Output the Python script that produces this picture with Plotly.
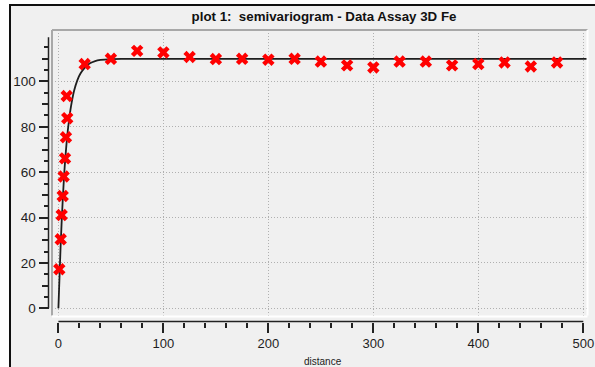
import plotly.graph_objects as go

# ---- data ----
lag_distance = [0.85, 2.2, 3.1, 4.1, 5.0, 6.3, 7.2, 8.4, 7.9,
                25, 50, 75, 100, 125, 150, 175, 200, 225, 250,
                275, 300, 325, 350, 375, 400, 425, 450, 475]
semivariance = [17.2, 30.4, 41.1, 49.5, 58.1, 66.1, 75.4, 83.8, 93.6,
                107.7, 110.0, 113.5, 112.8, 110.8, 109.9, 110.0, 109.6, 110.0, 108.8,
                107.1, 106.2, 108.8, 108.8, 107.1, 107.7, 108.4, 106.6, 108.4]

model_distance = [0, 1, 2, 3, 4, 5, 6, 8, 10, 12, 15, 18, 21, 25, 30, 35, 40, 50, 60, 80, 505]
model_gamma = [0, 13, 26, 37, 46.5, 55, 62.5, 74, 82.5, 89, 96, 100.5, 103.5, 106, 108, 109, 109.5, 109.9, 110, 110, 110]

x_major_ticks = [0, 100, 200, 300, 400, 500]
y_major_ticks = [0, 20, 40, 60, 80, 100]
y_medium_ticks = [10, 30, 50, 70, 90, 110]
y_minor_ticks = [5, 15, 25, 35, 45, 55, 65, 75, 85, 95, 105, 115]

title_text = "plot 1:\u00a0 semivariogram - Data Assay 3D Fe"
x_title = "distance"

# ---- layout geometry (pixels) ----
W, H = 595, 367
def px(x):
    return x / W
def py(y):
    return 1 - y / H

PLOT_L, PLOT_R, PLOT_T, PLOT_B = 52, 587.5, 30, 315.5
YAXIS_X = 48.5
XAXIS_Y = 321.5
X_RANGE = [-6.1, 504.0]
Y_RANGE = [-3.2, 122.7]
Y_AXIS_TOP = 119.5

tick_font = dict(family="Liberation Sans", size=13, color="#1e1e1e")
grid_style = dict(showgrid=True, gridcolor="#b0b0b0", griddash="1px,2px", gridwidth=1)

fig = go.Figure()

fig.add_trace(go.Scatter(
    x=model_distance, y=model_gamma, mode="lines",
    line=dict(color="#1e1e1e", width=1.8, shape="spline", smoothing=0.6),
    xaxis="x", yaxis="y", hoverinfo="skip", showlegend=False,
))
fig.add_trace(go.Scatter(
    x=lag_distance, y=semivariance, mode="markers",
    marker=dict(symbol="x", size=11, color="#ff0000", line=dict(width=0)),
    xaxis="x", yaxis="y2", cliponaxis=False, showlegend=False,
))

fig.update_layout(
    width=W, height=H,
    margin=dict(l=0, r=0, t=0, b=0),
    paper_bgcolor="white",
    plot_bgcolor="#f0f0f0",
    showlegend=False,
    title=dict(text=title_text, x=324 / W, y=1 - 16 / H, xref="container", yref="container",
               xanchor="center", yanchor="middle",
               font=dict(family="Liberation Sans", size=13.3, color="#111111", weight="bold")),
    xaxis=dict(
        domain=[px(PLOT_L), px(PLOT_R)], range=X_RANGE, anchor="free", position=py(XAXIS_Y),
        tickmode="array", tickvals=x_major_ticks, ticks="outside", ticklen=10,
        tickwidth=1.5, tickcolor="#222222", showline=False, zeroline=False,
        tickfont=tick_font, automargin=False, ticklabeloverflow="allow",
        minor=dict(dtick=20, tick0=0, ticks="outside", ticklen=5, tickwidth=1.5,
                   tickcolor="#222222", showgrid=False),
        **grid_style,
    ),
    yaxis=dict(
        domain=[py(PLOT_B), py(PLOT_T)], range=Y_RANGE, anchor="free", position=px(YAXIS_X),
        tickmode="array", tickvals=y_major_ticks, ticks="outside", ticklen=10,
        tickwidth=1.5, tickcolor="#222222", showline=False, zeroline=False,
        tickfont=dict(tick_font, size=13.5), automargin=False, ticklabeloverflow="allow",
        minor=dict(tickmode="array", tickvals=y_minor_ticks, ticks="outside", ticklen=5,
                   tickwidth=1.5, tickcolor="#222222", showgrid=False),
        **grid_style,
    ),
    yaxis2=dict(
        overlaying="y", range=Y_RANGE, anchor="free", position=px(YAXIS_X),
        tickmode="array", tickvals=y_medium_ticks, ticks="outside", ticklen=7,
        tickwidth=1.5, tickcolor="#222222", showticklabels=False, showgrid=False,
        showline=False, zeroline=False, automargin=False,
    ),
)

shapes = [
    # outer window frame
    dict(type="rect", xref="paper", yref="paper", x0=px(10), x1=1.05, y0=-0.05, y1=py(5),
         fillcolor="#f0f0f0", line=dict(color="#101010", width=2), layer="below"),
    # sunken plot border
    dict(type="line", xref="paper", yref="paper", x0=px(PLOT_L), x1=px(PLOT_R), y0=py(PLOT_T), y1=py(PLOT_T),
         line=dict(color="#a8a8a8", width=2)),
    dict(type="line", xref="paper", yref="paper", x0=px(PLOT_L), x1=px(PLOT_L), y0=py(PLOT_T), y1=py(PLOT_B),
         line=dict(color="#a8a8a8", width=2)),
    dict(type="line", xref="paper", yref="paper", x0=px(PLOT_L), x1=px(PLOT_R), y0=py(PLOT_B + 1), y1=py(PLOT_B + 1),
         line=dict(color="#ffffff", width=2)),
    dict(type="line", xref="paper", yref="paper", x0=px(PLOT_R), x1=px(PLOT_R), y0=py(PLOT_T), y1=py(PLOT_B),
         line=dict(color="#ffffff", width=2)),
    # detached axis lines
    dict(type="line", xref="x", yref="paper", x0=x_major_ticks[0], x1=x_major_ticks[-1],
         y0=py(XAXIS_Y), y1=py(XAXIS_Y), line=dict(color="#222222", width=1.5)),
    dict(type="line", xref="paper", yref="y", x0=px(YAXIS_X), x1=px(YAXIS_X),
         y0=y_major_ticks[0], y1=Y_AXIS_TOP, line=dict(color="#222222", width=1.5)),
]
fig.update_layout(shapes=shapes)

fig.add_annotation(text=x_title, xref="paper", yref="paper", x=323 / W, y=py(361),
                   xanchor="center", yanchor="middle", showarrow=False,
                   font=dict(family="Liberation Sans", size=10, color="#222222"))

fig.write_html("out.html")
